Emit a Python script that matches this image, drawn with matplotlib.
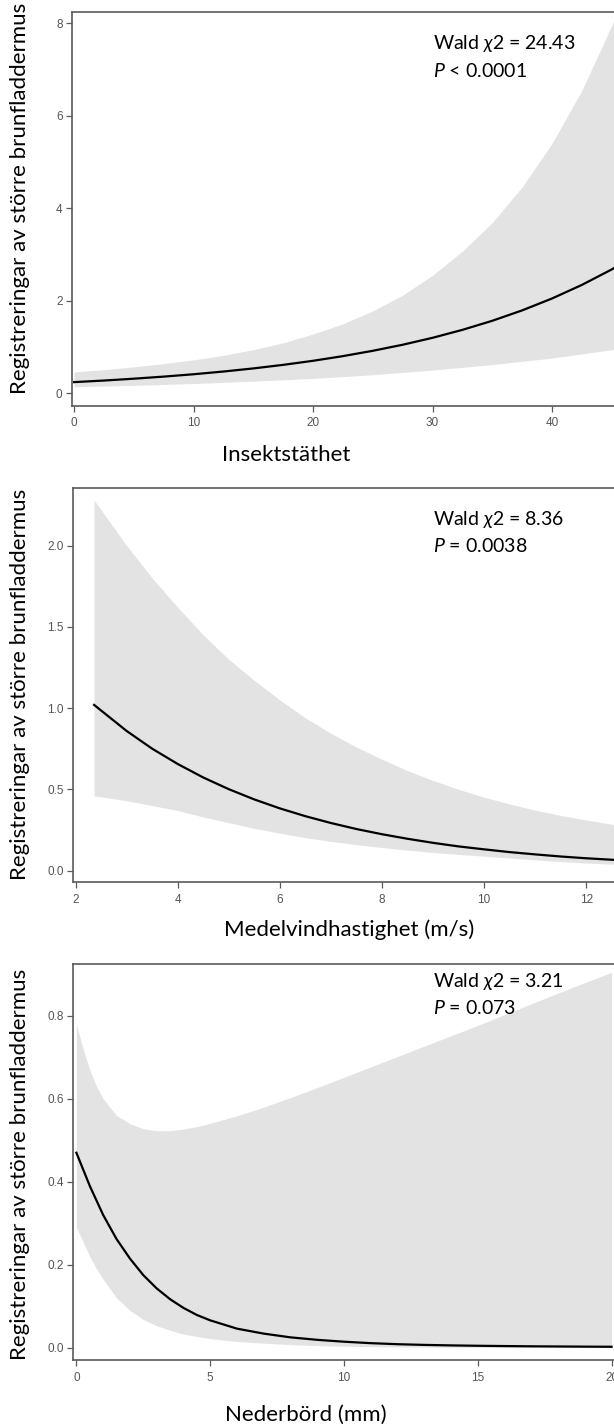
import matplotlib
matplotlib.use("Agg")
import matplotlib.pyplot as plt
import numpy as np

# ---- data -------------------------------------------------------------
# Panel 1: insect density
insect_x = [0, 2.5, 5, 7.5, 10, 12.5, 15, 17.5, 20, 22.5, 25, 27.5, 30,
            32.5, 35, 37.5, 40, 42.5, 45, 47.5]
insect_fit = [0.240, 0.274, 0.314, 0.359, 0.410, 0.469, 0.536, 0.613, 0.701,
              0.802, 0.917, 1.048, 1.198, 1.370, 1.566, 1.791, 2.048, 2.342,
              2.677, 3.061]
insect_hi = [0.46, 0.51, 0.57, 0.64, 0.72, 0.82, 0.94, 1.09, 1.28, 1.50,
             1.78, 2.12, 2.55, 3.07, 3.69, 4.46, 5.40, 6.55, 7.95, 9.70]
insect_lo = [0.14, 0.155, 0.17, 0.19, 0.21, 0.235, 0.26, 0.29, 0.32, 0.36,
             0.40, 0.45, 0.50, 0.56, 0.62, 0.69, 0.76, 0.85, 0.94, 1.04]

# Panel 2: mean wind speed
wind_x = [2.36, 3.0, 3.5, 4.0, 4.5, 5.0, 5.5, 6.0, 6.5, 7.0, 7.5, 8.0, 8.5,
          9.0, 9.5, 10.0, 10.5, 11.0, 11.5, 12.0, 12.5, 13.0]
wind_fit = [1.02, 0.859, 0.750, 0.656, 0.573, 0.501, 0.438, 0.383, 0.335,
            0.293, 0.256, 0.224, 0.196, 0.171, 0.149, 0.131, 0.114, 0.100,
            0.087, 0.076, 0.067, 0.058]
wind_hi = [2.28, 2.00, 1.80, 1.62, 1.45, 1.30, 1.17, 1.05, 0.94, 0.845, 0.76,
           0.685, 0.615, 0.555, 0.50, 0.452, 0.41, 0.372, 0.34, 0.312, 0.285,
           0.26]
wind_lo = [0.46, 0.43, 0.40, 0.37, 0.33, 0.295, 0.26, 0.23, 0.203, 0.18,
           0.16, 0.142, 0.126, 0.112, 0.10, 0.089, 0.078, 0.066, 0.056, 0.047,
           0.040, 0.035]

# Panel 3: precipitation
rain_x = [0, 0.25, 0.5, 0.75, 1, 1.5, 2, 2.5, 3, 3.5, 4, 4.5, 5, 6, 7, 8, 9,
          10, 11, 12, 13, 14, 15, 16, 17, 18, 19, 20]
rain_fit = [0.47, 0.43, 0.39, 0.355, 0.32, 0.262, 0.215, 0.175, 0.143, 0.117,
            0.096, 0.079, 0.066, 0.046, 0.034, 0.025, 0.019, 0.0145, 0.011,
            0.0085, 0.0068, 0.0056, 0.0047, 0.004, 0.0034, 0.003, 0.0026,
            0.0023]
rain_hi = [0.78, 0.72, 0.67, 0.63, 0.60, 0.56, 0.54, 0.528, 0.523, 0.523,
           0.527, 0.533, 0.541, 0.559, 0.58, 0.603, 0.627, 0.652, 0.677,
           0.702, 0.727, 0.752, 0.777, 0.803, 0.829, 0.855, 0.88, 0.905]
rain_lo = [0.29, 0.255, 0.22, 0.19, 0.165, 0.12, 0.09, 0.068, 0.053, 0.042,
           0.033, 0.027, 0.022, 0.015, 0.011, 0.0075, 0.005, 0.0035, 0.0026,
           0.0018, 0.0014, 0.001, 0.0008, 0.0005, 0.0004, 0.0003, 0.0002,
           0.0002]

y_label = "Registreringar av större brunfladdermus"
x_labels = ["Insektstäthet", "Medelvindhastighet (m/s)", "Nederbörd (mm)"]
wald_texts = [r"Wald $\mathit{\chi}$2 = 24.43", r"Wald $\mathit{\chi}$2 = 8.36",
              r"Wald $\mathit{\chi}$2 = 3.21"]
p_texts = [r"$\mathit{P}$ < 0.0001", r"$\mathit{P}$ = 0.0038",
           r"$\mathit{P}$ = 0.073"]

insect_ticks = [0, 10, 20, 30, 40]
insect_yticks = [0, 2, 4, 6, 8]
wind_ticks = [2, 4, 6, 8, 10, 12]
wind_yticks = [0.0, 0.5, 1.0, 1.5, 2.0]
rain_ticks = [0, 5, 10, 15, 20]
rain_yticks = [0.0, 0.2, 0.4, 0.6, 0.8]

# ---- styling ----------------------------------------------------------
plt.rcParams["mathtext.fontset"] = "custom"
plt.rcParams["mathtext.rm"] = "Lato"
plt.rcParams["mathtext.it"] = "Lato:italic"
plt.rcParams["mathtext.fallback"] = "stixsans"

W, H = 614, 1426
LABEL_FONT = ["Lato", "DejaVu Sans"]
TICK_FONT = ["Liberation Sans Narrow", "Liberation Sans", "DejaVu Sans"]
BAND = "#e3e3e3"
SPINE = "#5a5a5a"

fig = plt.figure(figsize=(W / 100, H / 100), dpi=100)


def add_panel(left, top, right, bottom):
    return fig.add_axes([left / W, 1 - bottom / H, (right - left) / W,
                         (bottom - top) / H])


panels = [
    dict(box=(72, 11.7, 671.5, 405.7), xlim=(-0.17, 50), ylim=(-0.27, 8.25),
         x=insect_x, fit=insect_fit, lo=insect_lo, hi=insect_hi,
         xt=insect_ticks, yt=insect_yticks, yfmt="{:g}",
         ylab_y=198, xlab=(286, 455), ann_y=(44, 71)),
    dict(box=(73.3, 488.3, 688.3, 882), xlim=(1.953, 14), ylim=(-0.07, 2.353),
         x=wind_x, fit=wind_fit, lo=wind_lo, hi=wind_hi,
         xt=wind_ticks, yt=wind_yticks, yfmt="{:.1f}",
         ylab_y=684, xlab=(349, 930), ann_y=(519, 546)),
    dict(box=(73.3, 964, 619.6, 1360), xlim=(-0.116, 20.3), ylim=(-0.0296, 0.925),
         x=rain_x, fit=rain_fit, lo=rain_lo, hi=rain_hi,
         xt=rain_ticks, yt=rain_yticks, yfmt="{:.1f}",
         ylab_y=1164, xlab=(306, 1415), ann_y=(982, 1008)),
]

for i, p in enumerate(panels):
    ax = add_panel(*p["box"])
    ax.fill_between(p["x"], p["lo"], p["hi"], color=BAND, linewidth=0,
                    zorder=1)
    ax.plot(p["x"], p["fit"], color="black", lw=1.6, zorder=2)
    ax.set_xlim(*p["xlim"])
    ax.set_ylim(*p["ylim"])
    ax.set_xticks(p["xt"])
    ax.set_yticks(p["yt"])
    ax.set_xticklabels([str(v) for v in p["xt"]])
    ax.set_yticklabels([p["yfmt"].format(v) for v in p["yt"]])
    for s in ax.spines.values():
        s.set_color(SPINE)
        s.set_linewidth(1.2)
    ax.tick_params(direction="out", length=4.3, width=0.9, color=SPINE,
                   labelsize=8.5, labelcolor="#555555")
    ax.tick_params(axis="x", pad=4)
    ax.tick_params(axis="y", pad=2.5)
    for lab in ax.get_xticklabels() + ax.get_yticklabels():
        lab.set_family(TICK_FONT)

    fig.text(20 / W, 1 - p["ylab_y"] / H, y_label, rotation=90,
             ha="center", va="center", fontsize=16, family=LABEL_FONT)
    fig.text(p["xlab"][0] / W, 1 - p["xlab"][1] / H, x_labels[i],
             ha="center", va="center", fontsize=16, family=LABEL_FONT)
    fig.text(433 / W, 1 - p["ann_y"][0] / H, wald_texts[i], ha="left",
             va="center", fontsize=14, family=LABEL_FONT)
    fig.text(433 / W, 1 - p["ann_y"][1] / H, p_texts[i], ha="left",
             va="center", fontsize=14, family=LABEL_FONT)

fig.savefig("out.png", dpi=100)
